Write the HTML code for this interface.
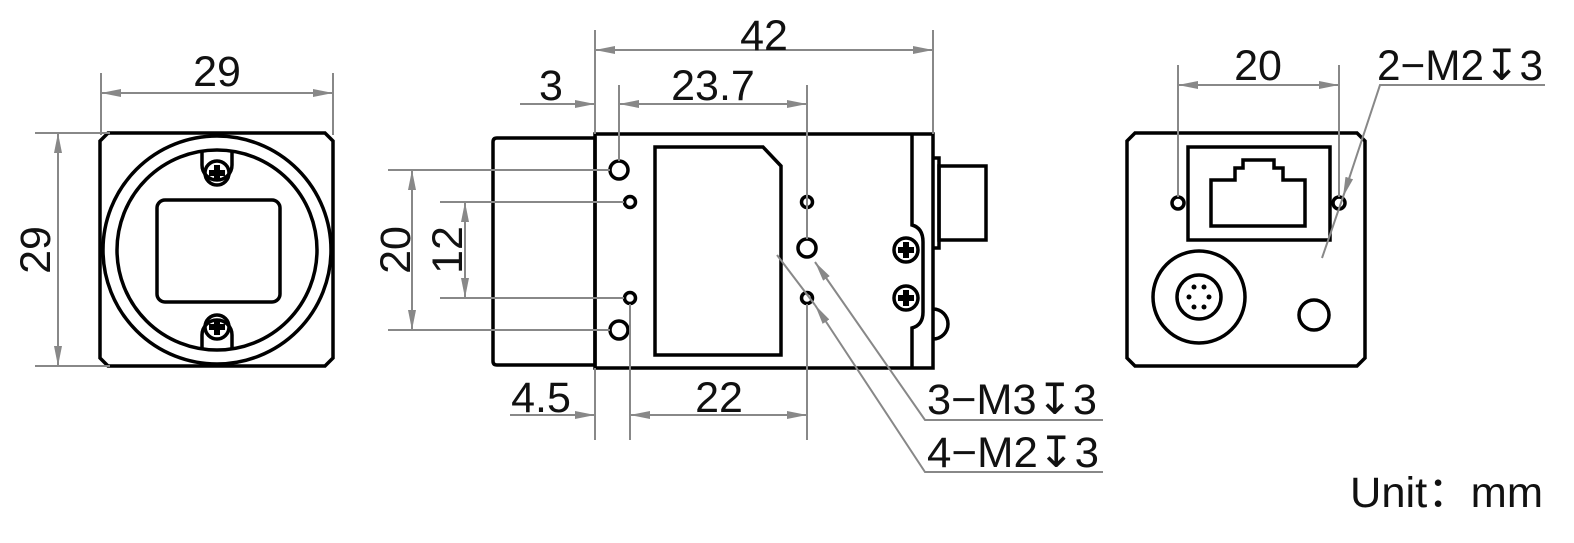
<!DOCTYPE html>
<html><head><meta charset="utf-8"><style>
html,body{margin:0;padding:0;background:#fff;}
svg{display:block;}
text{font-family:"Liberation Sans","DejaVu Sans",sans-serif;fill:#111;font-size:43px;}
</style></head><body>
<svg width="1574" height="543" viewBox="0 0 1574 543" xmlns="http://www.w3.org/2000/svg">
<defs>
<marker id="a" viewBox="0 0 20 8" refX="20" refY="4" markerWidth="20" markerHeight="8" markerUnits="userSpaceOnUse" orient="auto-start-reverse"><path d="M0,0 L20,4 L0,8 z" fill="#888"/></marker>
<g id="scr"><circle r="12" fill="none" stroke="#000" stroke-width="3.5"/><path d="M-8,0 H8 M0,-8 V8" stroke="#000" stroke-width="6"/></g>
</defs>
<g stroke="#000" stroke-width="3.5" fill="none">
<!-- left view -->
<path d="M108,133 H325 L333,141 V358 L325,366 H108 L100,358 V141 Z"/>
<circle cx="217" cy="250" r="114"/>
<circle cx="217" cy="250" r="100"/>
<rect x="157" y="200" width="123" height="102" rx="8"/>
<path d="M202,151 V165 A15,15 0 0 0 232,165 V151"/>
<path d="M202,349 V335 A15,15 0 0 1 232,335 V349"/>
<!-- middle view -->
<path d="M497,138 H595 V365 H497 Q493,365 493,361 V142 Q493,138 497,138 Z"/>
<rect x="595" y="134" width="338" height="234"/>
<path d="M655,147 H763 L781,166 V355 H655 Z"/>
<circle cx="619" cy="170" r="9"/><circle cx="619" cy="330" r="9"/>
<circle cx="630" cy="202" r="5.5"/><circle cx="630" cy="298" r="5.5"/>
<circle cx="807" cy="202" r="5.5"/><circle cx="807" cy="298" r="5.5"/>
<circle cx="807" cy="248" r="9"/>
<path d="M912,134 V225 Q923,228 923,242 V312 Q923,325 912,328 V368"/>
<path d="M933,158 H939 V248 H933"/>
<rect x="939" y="166" width="47" height="74"/>
<path d="M933,309 A15,15 0 0 1 933,339"/>
<!-- right view -->
<path d="M1135,133 H1357 L1365,141 V358 L1357,366 H1135 L1127,358 V141 Z"/>
<rect x="1188" y="147" width="142" height="93"/>
<path d="M1211,226 V180 H1235 V168 H1243 V160 H1274 V168 H1283 V180 H1305 V226 Z"/>
<circle cx="1178" cy="203" r="6"/><circle cx="1339" cy="203" r="6"/>
<circle cx="1199" cy="297" r="46"/><circle cx="1199" cy="297" r="22"/>
<circle cx="1314" cy="315" r="15"/>
</g>
<g fill="#000">
<circle cx="1189" cy="297" r="2.5"/><circle cx="1209" cy="297" r="2.5"/>
<circle cx="1194" cy="287" r="2.5"/><circle cx="1204" cy="287" r="2.5"/>
<circle cx="1194" cy="307" r="2.5"/><circle cx="1204" cy="307" r="2.5"/>
</g>
<use href="#scr" x="217" y="173"/><use href="#scr" x="217" y="327"/>
<use href="#scr" x="906" y="250"/><use href="#scr" x="906" y="298"/>
<!-- dimensions -->
<g stroke="#888" stroke-width="2" fill="none">
<path d="M101,73 V135 M333,73 V135"/>
<path d="M101,93 H333" marker-start="url(#a)" marker-end="url(#a)"/>
<path d="M35,133 H110 M35,366 H110"/>
<path d="M58,133 V366" marker-start="url(#a)" marker-end="url(#a)"/>
<path d="M595,30 V134 M933,30 V134"/>
<path d="M595,50 H933" marker-start="url(#a)" marker-end="url(#a)"/>
<path d="M619,85 V161 M807,85 V239"/>
<path d="M619,104 H807" marker-start="url(#a)" marker-end="url(#a)"/>
<path d="M520,104 H595" marker-end="url(#a)"/>
<path d="M595,368 V440 M630,304 V440 M807,304 V440"/>
<path d="M630,415 H807" marker-start="url(#a)" marker-end="url(#a)"/>
<path d="M510,415 H595" marker-end="url(#a)"/>
<path d="M388,170 H610 M388,330 H610 M440,202 H624 M440,298 H624"/>
<path d="M412,170 V330" marker-start="url(#a)" marker-end="url(#a)"/>
<path d="M465,202 V298" marker-start="url(#a)" marker-end="url(#a)"/>
<path d="M1103,420 H925 L815,262" marker-end="url(#a)"/>
<path d="M1103,472 H925 L815,305" marker-end="url(#a)"/>
<path d="M815,305 L777,255"/>
<path d="M1178,65 V197 M1339,65 V197"/>
<path d="M1178,85 H1339" marker-start="url(#a)" marker-end="url(#a)"/>
<path d="M1545,85 H1380 L1343,197" marker-end="url(#a)"/>
<path d="M1343,197 L1322,258"/>
</g>
<g>
<text x="217" y="86" text-anchor="middle">29</text>
<text transform="translate(50,250) rotate(-90)" text-anchor="middle">29</text>
<text x="764" y="50" text-anchor="middle">42</text>
<text x="713" y="100" text-anchor="middle">23.7</text>
<text x="551" y="100" text-anchor="middle">3</text>
<text x="719" y="412" text-anchor="middle">22</text>
<text x="541" y="412" text-anchor="middle">4.5</text>
<text transform="translate(410,250) rotate(-90)" text-anchor="middle">20</text>
<text transform="translate(462,250) rotate(-90)" text-anchor="middle">12</text>
<text x="1258" y="80" text-anchor="middle">20</text>
<text x="927" y="414" textLength="170" lengthAdjust="spacingAndGlyphs">3−M3↧3</text>
<text x="927" y="467" textLength="172" lengthAdjust="spacingAndGlyphs">4−M2↧3</text>
<text x="1377" y="80" textLength="166" lengthAdjust="spacingAndGlyphs">2−M2↧3</text>
<text x="1350" y="507" font-size="38" textLength="193" lengthAdjust="spacingAndGlyphs">Unit：mm</text>
</g>
</svg>
</body></html>
